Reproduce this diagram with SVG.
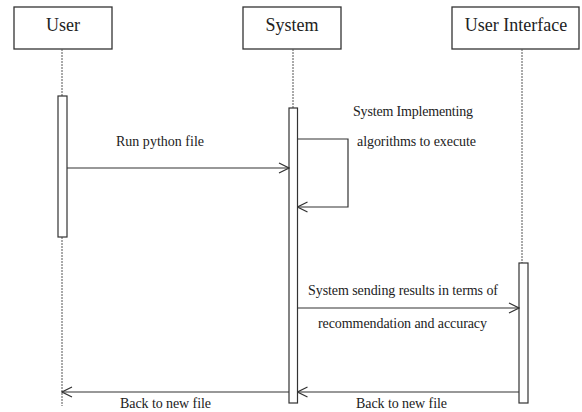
<svg xmlns="http://www.w3.org/2000/svg" width="582" height="412" viewBox="0 0 582 412">
<style>
.box{fill:#fff;stroke:#333;stroke-width:1.3}
.act{fill:#fff;stroke:#333;stroke-width:1.2}
.life{stroke:#555;stroke-width:1;stroke-dasharray:2,1;fill:none}
.title{font-family:"Liberation Serif",serif;font-size:18px;fill:#222;text-anchor:middle}
.lbl{font-family:"Liberation Serif",serif;font-size:14px;fill:#222}
.msg{stroke:#333;stroke-width:1.2;fill:none}
</style>
<defs>
<marker id="open" markerWidth="12" markerHeight="12" refX="11" refY="6" orient="auto" markerUnits="userSpaceOnUse">
<path d="M1,1 L11,6 L1,11" fill="none" stroke="#333" stroke-width="1.2"/>
</marker>
</defs>
<rect width="582" height="412" fill="#fff"/>
<g id="user">
<rect class="box" x="14" y="7" width="98" height="42"/>
<text class="title" x="63" y="31">User</text>
<line class="life" x1="62" y1="49" x2="62" y2="96"/>
<line class="life" x1="62" y1="237" x2="62" y2="406"/>
<rect class="act" x="58" y="96" width="9" height="141"/>
</g>
<g id="system">
<rect class="box" x="243" y="7" width="98" height="42"/>
<text class="title" x="292" y="31">System</text>
<line class="life" x1="293" y1="49" x2="293" y2="108"/>
<rect class="act" x="289" y="108" width="8.5" height="295"/>
</g>
<g id="ui">
<rect class="box" x="452" y="7" width="127" height="42"/>
<text class="title" x="516" y="31">User Interface</text>
<line class="life" x1="522" y1="49" x2="522" y2="263"/>
<rect class="act" x="519" y="263" width="9" height="140"/>
</g>
<g id="connectors">
<line class="msg" x1="67" y1="168" x2="289" y2="168" marker-end="url(#open)"/>
<polyline class="msg" points="297.5,139 348,139 348,207 297.5,207" marker-end="url(#open)"/>
<line class="msg" x1="297.5" y1="308" x2="519" y2="308" marker-end="url(#open)"/>
<line class="msg" x1="519" y1="392" x2="297.5" y2="392" marker-end="url(#open)"/>
<line class="msg" x1="289" y1="392" x2="62" y2="392" marker-end="url(#open)"/>
</g>
<g id="labels">
<text class="lbl" x="116" y="146" textLength="88">Run python file</text>
<text class="lbl" x="353" y="116" textLength="120">System Implementing</text>
<text class="lbl" x="357" y="146" textLength="119">algorithms to execute</text>
<text class="lbl" x="308" y="295" textLength="190">System sending results in terms of</text>
<text class="lbl" x="318" y="328" textLength="169">recommendation and accuracy</text>
<text class="lbl" x="356" y="408" textLength="91">Back to new file</text>
<text class="lbl" x="120" y="408" textLength="91">Back to new file</text>
</g>
</svg>
